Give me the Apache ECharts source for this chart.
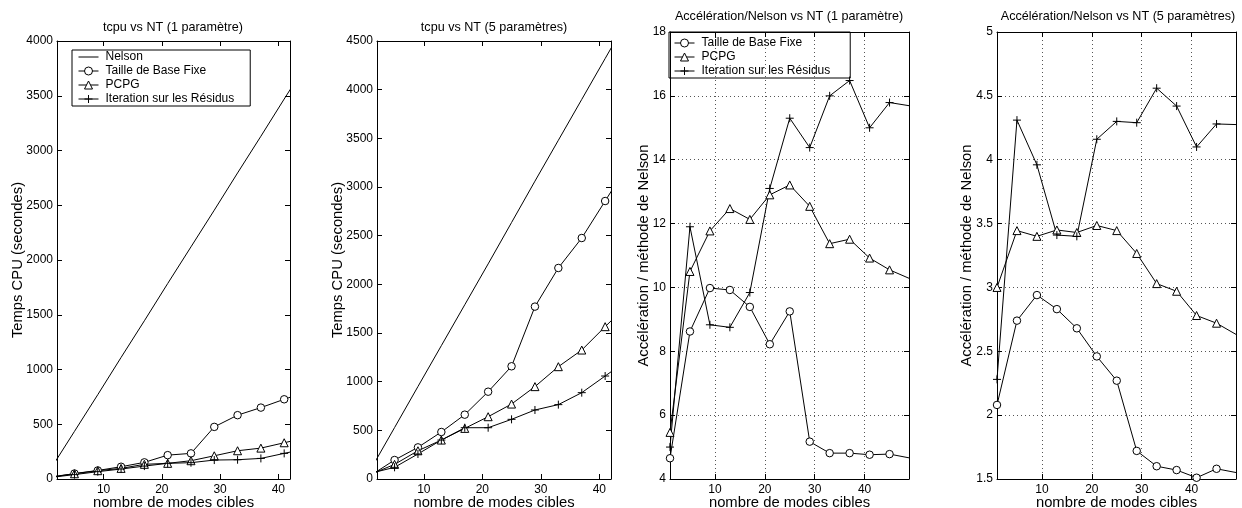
<!DOCTYPE html>
<html>
<head>
<meta charset="utf-8">
<script src="https://cdn.jsdelivr.net/npm/echarts@6/dist/echarts.min.js"></script>
<style>html,body{margin:0;padding:0;background:#fff}#c{width:1242px;height:508px}</style>
</head>
<body>
<div id="c"></div>
<script>
// ---- data ----
const ntA = [1, 5, 9, 13, 17, 21, 25, 29, 33, 37, 41, 45];
const ntB = [1, 5, 9, 13, 17, 21, 25, 29, 33, 37, 41, 45, 49];
const xTicks = [10, 20, 30, 40];

// tcpu vs NT (1 paramètre)
const t1Nelson = [100, 435, 770, 1110, 1445, 1785, 2120, 2455, 2795, 3130, 3470, 3805];
const t1Fixe   = [15, 50, 78, 112, 152, 218, 234, 476, 583, 652, 728, 800];
const t1PCPG   = [20, 48, 76, 97, 134, 143, 167, 212, 258, 282, 331, 380];
const t1Resid  = [15, 40, 67, 91, 118, 143, 149, 173, 176, 188, 234, 280];

// tcpu vs NT (5 paramètres)
const t5Nelson = [107, 528, 950, 1370, 1790, 2210, 2635, 3060, 3480, 3900, 4320, 4740];
const t5Fixe   = [40, 195, 325, 483, 661, 897, 1158, 1771, 2168, 2476, 2856, 3240];
const t5PCPG   = [50, 150, 290, 400, 520, 640, 770, 949, 1154, 1325, 1565, 1800];
const t5Resid  = [60, 120, 257, 400, 527, 527, 613, 709, 764, 887, 1058, 1230];

// Accélération/Nelson vs NT (1 paramètre)
const a1Fixe  = [4.65, 8.62, 9.98, 9.92, 9.39, 8.22, 9.25, 5.17, 4.81, 4.81, 4.76, 4.78, 4.66];
const a1PCPG  = [5.46, 10.5, 11.77, 12.47, 12.13, 12.9, 13.21, 12.54, 11.37, 11.51, 10.92, 10.55, 10.28];
const a1Resid = [5.0, 11.9, 8.83, 8.75, 9.84, 13.1, 15.3, 14.38, 16.0, 16.48, 15.0, 15.79, 15.69];

// Accélération/Nelson vs NT (5 paramètres)
const a5Fixe  = [2.08, 2.74, 2.94, 2.83, 2.68, 2.46, 2.27, 1.72, 1.60, 1.57, 1.51, 1.58, 1.55];
const a5PCPG  = [3.0, 3.445, 3.40, 3.45, 3.43, 3.485, 3.445, 3.266, 3.03, 2.97, 2.78, 2.72, 2.63];
const a5Resid = [2.28, 4.31, 3.96, 3.41, 3.40, 4.16, 4.30, 4.29, 4.56, 4.42, 4.10, 4.28, 4.275];

const names = ['Nelson', 'Taille de Base Fixe', 'PCPG', 'Iteration sur les Résidus'];
const titles = ['tcpu vs NT (1 paramètre)', 'tcpu vs NT (5 paramètres)',
  'Accélération/Nelson vs NT (1 paramètre)', 'Accélération/Nelson vs NT (5 paramètres)'];
const xName = 'nombre de modes cibles';
const yNames = ['Temps CPU (secondes)', 'Temps CPU (secondes)',
  'Accélération / méthode de Nelson', 'Accélération / méthode de Nelson'];

// ---- layout / style ----
const FONT = '"Liberation Sans", Arial, Helvetica, sans-serif';
const grids = [
  {left: 57, top: 41, width: 233, height: 438, outerBoundsMode: 'none'},
  {left: 377, top: 41, width: 234, height: 438, outerBoundsMode: 'none'},
  {left: 670, top: 32, width: 239, height: 447, outerBoundsMode: 'none'},
  {left: 997, top: 32, width: 239, height: 447, outerBoundsMode: 'none'}
];
const xRange = [[2, 42], [2, 42], [1, 48.9], [1, 48.9]];
const yRange = [[0, 4000, 500], [0, 4500, 500], [4, 18, 2], [1.5, 5, 0.5]];
const yGap = [32, 32, 19, 23];
const titlePos = [[173, 21], [494, 21], [789, 10], [1118, 10]];

const black = '#000';
const dotted = {show: true, lineStyle: {type: [1, 3], color: '#555', width: 1}};

const xAxis = [], yAxis = [];
grids.forEach((g, i) => {
  const split = i >= 2;
  xAxis.push({
    type: 'value', gridIndex: i, min: xRange[i][0], max: xRange[i][1], position: 'bottom',
    name: xName, nameLocation: 'middle', nameGap: 16, nameMoveOverlap: false,
    nameTextStyle: {fontSize: 14.8, color: black, fontFamily: FONT},
    axisLine: {onZero: false, lineStyle: {color: black, width: 1}},
    axisTick: {inside: true, length: 5, customValues: xTicks, lineStyle: {color: black}},
    axisLabel: {customValues: xTicks, margin: 5, fontSize: 12, color: black, fontFamily: FONT},
    splitLine: split ? dotted : {show: false}
  });
  xAxis.push({
    type: 'value', gridIndex: i, min: xRange[i][0], max: xRange[i][1], position: 'top',
    axisLine: {onZero: false, lineStyle: {color: black, width: 1}},
    axisTick: {inside: true, length: 5, customValues: xTicks, lineStyle: {color: black}},
    axisLabel: {show: false}, splitLine: {show: false}
  });
  yAxis.push({
    type: 'value', gridIndex: i, min: yRange[i][0], max: yRange[i][1], interval: yRange[i][2],
    position: 'left',
    name: yNames[i], nameLocation: 'middle', nameGap: yGap[i], nameMoveOverlap: false,
    nameTextStyle: {fontSize: 14.8, color: black, fontFamily: FONT},
    axisLine: {show: true, onZero: false, lineStyle: {color: black, width: 1}},
    axisTick: {show: true, inside: true, length: 5, lineStyle: {color: black}},
    axisLabel: {margin: 4, fontSize: 12, color: black, fontFamily: FONT, formatter: v => String(v)},
    splitLine: split ? dotted : {show: false}
  });
  yAxis.push({
    type: 'value', gridIndex: i, min: yRange[i][0], max: yRange[i][1], interval: yRange[i][2],
    position: 'right',
    axisLine: {show: true, onZero: false, lineStyle: {color: black, width: 1}},
    axisTick: {show: true, inside: true, length: 5, lineStyle: {color: black}},
    axisLabel: {show: false}, splitLine: {show: false}
  });
});

const styles = {
  'Nelson': {symbol: 'none'},
  'Taille de Base Fixe': {symbol: 'circle', symbolSize: 7.5},
  'PCPG': {symbol: 'triangle', symbolSize: 8},
  'Iteration sur les Résidus': {symbol: 'path://M0,5H10M5,0V10', symbolSize: 8}
};
function mk(name, xs, ys, gi) {
  const st = styles[name];
  const isPlus = name === 'Iteration sur les Résidus';
  return Object.assign({
    name, type: 'line', xAxisIndex: gi * 2, yAxisIndex: gi * 2,
    data: xs.map((x, k) => [x, ys[k]]),
    clip: true, silent: true,
    lineStyle: {color: black, width: 1},
    itemStyle: {color: isPlus ? black : '#fff', borderColor: black, borderWidth: 1},
    emphasis: {disabled: true}
  }, st);
}
const series = [
  mk(names[0], ntA, t1Nelson, 0), mk(names[1], ntA, t1Fixe, 0), mk(names[2], ntA, t1PCPG, 0), mk(names[3], ntA, t1Resid, 0),
  mk(names[0], ntA, t5Nelson, 1), mk(names[1], ntA, t5Fixe, 1), mk(names[2], ntA, t5PCPG, 1), mk(names[3], ntA, t5Resid, 1),
  mk(names[1], ntB, a1Fixe, 2), mk(names[2], ntB, a1PCPG, 2), mk(names[3], ntB, a1Resid, 2),
  mk(names[1], ntB, a5Fixe, 3), mk(names[2], ntB, a5PCPG, 3), mk(names[3], ntB, a5Resid, 3)
];

const hidden = 'rgba(0,0,0,0)';
const legendItems = names.map(n => n === 'Nelson'
  ? {name: n, itemStyle: {color: hidden, borderColor: hidden, borderWidth: 0}}
  : {name: n});
const legendText = {fontSize: 12, color: black, fontFamily: FONT, lineHeight: 14, padding: [0, 0, 0, 2]};
const legendCommon = {
  orient: 'vertical', itemWidth: 20, itemHeight: 10, itemGap: 0,
  borderColor: black, borderWidth: 1, selectedMode: false, textStyle: legendText,
  lineStyle: {width: 1, color: black},
  itemStyle: {borderWidth: 1}
};
const option = {
  animation: false,
  backgroundColor: '#fff',
  title: titles.map((t, i) => ({
    text: t, left: titlePos[i][0], top: titlePos[i][1], textAlign: 'center', padding: 0,
    textStyle: {fontSize: 12.6, fontWeight: 'normal', color: black, fontFamily: FONT}
  })),
  legend: [
    Object.assign({data: legendItems, left: 72, top: 50, padding: [0, 16, 0, 6]}, legendCommon),
    Object.assign({data: legendItems.slice(1), left: 669, top: 32, padding: [4, 20, 0, 5]}, legendCommon)
  ],
  grid: grids,
  xAxis, yAxis, series
};
const chart = echarts.init(document.getElementById('c'), null, {renderer: 'canvas'});
chart.setOption(option);
</script>
</body>
</html>
